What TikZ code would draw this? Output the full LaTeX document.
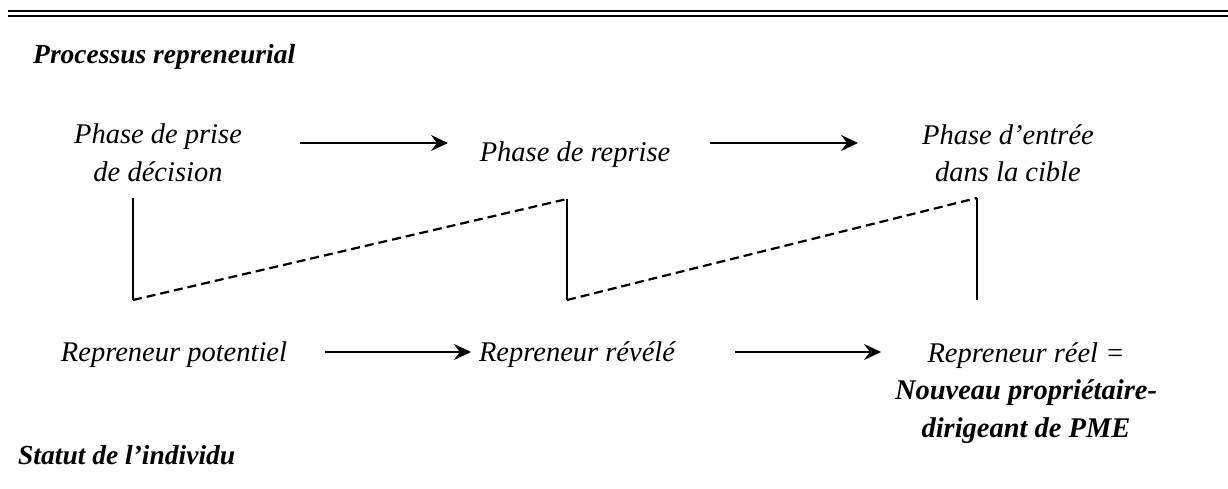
\documentclass[tikz,border=0pt]{standalone}
\usepackage{fontspec}
\setmainfont{Liberation Serif}
\usetikzlibrary{arrows.meta}
\begin{document}
\begin{tikzpicture}[x=1pt,y=-1pt,
  lbl/.style={font=\fontsize{28.5}{37.5}\selectfont\itshape, align=center, inner sep=0pt},
  ttl/.style={font=\fontsize{27.5}{36}\selectfont\bfseries\itshape, inner sep=0pt},
  flow/.style={line width=1.7pt, -{Stealth[length=17pt,width=16pt,inset=6pt]}},
  vbar/.style={line width=1.8pt},
  dline/.style={line width=2.2pt, dash pattern=on 9pt off 5pt}]
\useasboundingbox (0,0) rectangle (1228,489);
\draw[line width=2.6pt] (8,11) -- (1228,11);
\draw[line width=1.4pt] (8,16) -- (1228,16);
\node[ttl, anchor=base west] (t1) at (33,64) {Processus repreneurial};
\node[ttl, anchor=base west] (t2) at (18,464) {Statut de l’individu};

\node[lbl, anchor=center] (p1) at (158,153) {Phase de prise\\de décision};
\node[lbl, anchor=center] (p2) at (575,155) {Phase de reprise};
\node[lbl, anchor=center] (p3) at (1008,153) {Phase d’entrée\\dans la cible};

\node[lbl, anchor=center] (s1) at (174,355) {Repreneur potentiel};
\node[lbl, anchor=center] (s2) at (577,355) {Repreneur révélé};
\node[lbl, anchor=north] (s3) at (1026,342) {Repreneur réel =\\\textbf{Nouveau propriétaire-}\\\textbf{dirigeant de PME}};

\coordinate (a1s) at (300,143); \coordinate (a1e) at (448,143);
\coordinate (a2s) at (710,143); \coordinate (a2e) at (858,143);
\coordinate (a3s) at (325,352); \coordinate (a3e) at (471,352);
\coordinate (a4s) at (735,352); \coordinate (a4e) at (881,352);
\draw[flow] (a1s) -- (a1e);
\draw[flow] (a2s) -- (a2e);
\draw[flow] (a3s) -- (a3e);
\draw[flow] (a4s) -- (a4e);

\coordinate (v1t) at (133,198); \coordinate (v1b) at (133,300);
\coordinate (v2t) at (567,199); \coordinate (v2b) at (567,300);
\coordinate (v3t) at (977,198); \coordinate (v3b) at (977,300);
\draw[vbar] (v1t) -- (v1b);
\draw[vbar] (v2t) -- (v2b);
\draw[vbar] (v3t) -- (v3b);
\draw[dline] (v1b) -- (v2t);
\draw[dline] (v2b) -- (v3t);
\end{tikzpicture}
\end{document}
